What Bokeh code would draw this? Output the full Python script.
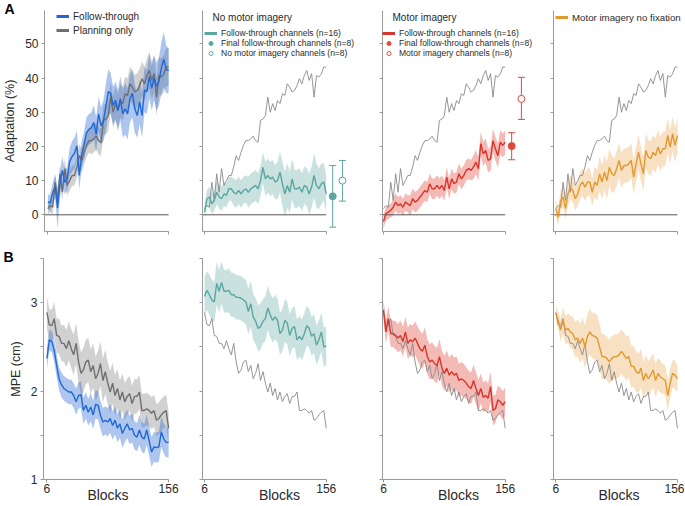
import numpy as np
from bokeh.plotting import figure
from bokeh.layouts import row, column
from bokeh.models import (Range1d, FixedTicker, Legend, LegendItem, Label,
                          Whisker, ColumnDataSource, TeeHead)
from bokeh.embed import file_html
from bokeh.resources import INLINE

FONT = "Liberation Sans"

# ---------------- data ----------------
blocks = list(range(6, 157, 3))

# Panel A: adaptation (%)
adapt_follow = [3.8, 3.5, 6.5, 8.2, 2.0, 9.0, 13.0, 9.5, 10.5, 15.5,
                17.0, 18.0, 20.2, 11.5, 17.5, 20.5, 24.0, 25.0, 25.5, 27.0,
                23.5, 29.5, 26.0, 27.5, 31.5, 36.0, 35.5, 32.0, 33.5, 30.5,
                34.0, 29.5, 31.0, 29.5, 34.0, 35.5, 31.0, 29.0, 33.0, 29.0,
                36.5, 36.0, 40.5, 37.0, 40.0, 37.5, 39.0, 43.0, 45.5, 42.5,
                42.2]
adapt_follow_sem = [2.0, 2.5, 3.0, 3.5, 6.0, 4.0, 4.0, 3.5, 3.5, 4.0,
                    4.5, 4.5, 4.5, 4.0, 4.0, 4.0, 4.5, 4.5, 4.5, 5.0,
                    5.0, 5.0, 5.5, 6.0, 7.0, 6.5, 6.0, 5.5, 5.5, 6.0,
                    6.5, 7.0, 7.5, 7.5, 7.0, 7.0, 7.0, 6.5, 6.5, 6.5,
                    6.5, 6.5, 6.5, 6.5, 6.5, 7.0, 7.0, 7.5, 8.0, 7.0,
                    6.5]
adapt_plan = [1.8, 2.7, 2.2, 9.5, 4.2, 12.0, 6.6, 13.5, 8.6, 10.0,
              11.5, 11.5, 14.0, 17.3, 15.9, 18.3, 20.3, 21.7, 21.7, 22.2,
              23.0, 21.7, 21.2, 27.6, 28.0, 29.0, 34.4, 30.0, 32.5, 30.5,
              33.4, 32.5, 35.4, 34.9, 38.3, 37.3, 35.9, 36.4, 37.8, 39.8,
              38.3, 40.7, 42.2, 39.3, 41.3, 34.4, 40.7, 40.3, 41.2, 43.2,
              43.2]
adapt_plan_sem = [1.5, 2.0, 2.0, 2.5, 2.5, 2.5, 2.5, 3.0, 3.0, 3.0,
                  3.0, 3.0, 3.0, 3.5, 3.5, 3.5, 3.5, 3.5, 4.0, 4.0,
                  4.0, 4.0, 4.0, 4.5, 4.5, 4.5, 4.5, 4.5, 5.0, 5.0,
                  5.0, 5.0, 5.0, 5.0, 5.0, 5.0, 5.0, 5.0, 5.0, 5.0,
                  5.0, 5.0, 5.5, 5.5, 5.5, 5.5, 5.5, 5.5, 5.5, 5.5,
                  5.5]
adapt_nomi = [0.8, 4.7, 5.2, 3.2, 4.2, 6.6, 5.2, 4.7, 6.1, 5.7,
              7.6, 7.6, 6.6, 6.1, 7.1, 6.1, 7.1, 7.6, 6.6, 7.6,
              8.1, 8.6, 7.6, 10.0, 13.9, 10.5, 11.5, 10.5, 11.0, 9.6,
              10.0, 12.5, 9.1, 6.1, 8.6, 6.6, 10.5, 7.6, 7.6, 8.1,
              6.6, 8.6, 8.1, 6.1, 8.1, 11.5, 8.6, 7.6, 9.1, 9.6,
              6.1]
adapt_nomi_sem = [2.0, 2.5, 3.0, 3.0, 3.0, 3.5, 3.5, 3.5, 3.5, 3.5,
                  3.5, 3.5, 4.0, 4.0, 4.0, 4.0, 4.0, 4.0, 4.5, 4.5,
                  4.5, 4.5, 4.5, 4.5, 4.5, 5.0, 5.0, 5.0, 5.0, 5.0,
                  5.5, 6.0, 6.5, 6.5, 6.5, 6.0, 6.0, 5.5, 5.5, 5.5,
                  5.5, 5.5, 5.5, 6.0, 6.0, 6.5, 6.5, 6.0, 6.0, 5.5,
                  5.5]
adapt_mi = [-2.0, 0.3, 0.8, 1.3, 2.2, 3.7, 2.7, 3.2, 2.2, 3.7,
            3.2, 2.7, 4.7, 3.7, 4.2, 5.2, 6.1, 7.1, 6.6, 9.1,
            7.6, 7.6, 8.6, 7.6, 8.6, 7.1, 11.0, 7.6, 10.5, 9.1,
            9.6, 12.0, 10.5, 11.5, 13.0, 13.5, 13.0, 14.0, 15.4, 13.5,
            20.8, 17.8, 18.8, 15.9, 16.4, 21.7, 19.3, 17.3, 21.2, 20.3,
            21.2]
adapt_mi_sem = [2.0, 2.0, 2.0, 2.0, 2.5, 2.5, 2.5, 2.5, 2.5, 2.5,
                2.5, 3.0, 3.0, 3.0, 3.0, 3.0, 3.0, 3.0, 3.0, 3.0,
                3.0, 3.0, 3.0, 3.0, 3.0, 3.0, 3.0, 3.0, 3.0, 3.0,
                3.0, 3.0, 3.0, 3.0, 3.0, 3.0, 3.0, 3.5, 3.5, 3.5,
                3.5, 3.5, 3.5, 3.5, 3.5, 3.5, 3.5, 3.5, 3.5, 3.5,
                3.5]
adapt_minf = [1.8, -0.7, 4.2, 5.2, 1.8, 6.1, 8.1, 7.1, 4.7, 6.1,
              8.6, 9.6, 8.1, 9.6, 9.6, 6.6, 9.6, 8.6, 12.0, 9.6,
              12.5, 10.0, 13.9, 12.0, 11.5, 13.5, 15.9, 13.0, 14.4, 14.4,
              14.9, 15.9, 11.0, 14.9, 18.3, 14.9, 12.0, 18.8, 16.9, 16.4,
              18.3, 17.3, 19.8, 17.8, 19.3, 19.3, 23.2, 19.8, 23.7, 20.3,
              23.2]
adapt_minf_sem = [2.5, 2.5, 3.0, 3.0, 3.0, 3.5, 3.5, 3.5, 3.5, 3.5,
                  4.0, 4.0, 4.0, 4.0, 4.0, 4.0, 4.5, 4.5, 5.0, 5.0,
                  5.0, 5.5, 5.5, 5.5, 5.0, 5.0, 5.0, 5.0, 5.0, 5.0,
                  5.0, 5.0, 5.0, 5.0, 5.0, 5.0, 5.0, 5.0, 5.0, 5.0,
                  5.0, 5.0, 5.0, 5.0, 5.0, 5.0, 5.0, 5.0, 5.0, 5.0,
                  5.0]

# error bars (final follow-through channels, imagery channels)
err_x = [164, 176]
nomi_err_mean = [5.4, 10.0]
nomi_err_lo = [-3.6, 4.0]
nomi_err_hi = [14.4, 15.9]
mi_err_mean = [20.1, 33.9]
mi_err_lo = [16.1, 27.9]
mi_err_hi = [24.0, 40.2]

# Panel B: MPE (cm)
mpe_follow = [2.37, 2.58, 2.56, 2.46, 2.29, 2.14, 2.07, 2.03, 2.01, 1.99,
              1.99, 1.95, 1.88, 1.95, 1.96, 1.78, 1.84, 1.76, 1.82, 1.73,
              1.85, 1.84, 1.73, 1.65, 1.67, 1.65, 1.69, 1.61, 1.67, 1.58,
              1.63, 1.52, 1.58, 1.63, 1.56, 1.58, 1.50, 1.48, 1.56, 1.48,
              1.46, 1.56, 1.44, 1.31, 1.37, 1.36, 1.37, 1.54, 1.46, 1.42,
              1.42]
mpe_follow_sem = [0.12, 0.12, 0.12, 0.13, 0.13, 0.13, 0.14, 0.14, 0.14, 0.14,
                  0.14, 0.14, 0.15, 0.15, 0.15, 0.15, 0.15, 0.15, 0.16, 0.16,
                  0.16, 0.16, 0.16, 0.16, 0.16, 0.16, 0.16, 0.16, 0.16, 0.16,
                  0.16, 0.16, 0.16, 0.16, 0.16, 0.16, 0.16, 0.16, 0.17, 0.17,
                  0.17, 0.17, 0.17, 0.17, 0.17, 0.17, 0.17, 0.17, 0.17, 0.17,
                  0.17]
mpe_plan = [2.89, 2.75, 2.74, 2.82, 2.63, 2.62, 2.54, 2.54, 2.48, 2.57,
            2.48, 2.41, 2.54, 2.33, 2.20, 2.24, 2.33, 2.35, 2.22, 2.29,
            2.14, 2.20, 2.31, 2.12, 2.22, 2.09, 1.99, 2.09, 1.95, 2.03,
            1.90, 1.99, 1.88, 1.94, 1.97, 1.86, 1.94, 1.94, 1.99, 1.78,
            1.78, 1.80, 1.78, 1.75, 1.78, 1.67, 1.69, 1.73, 1.76, 1.78,
            1.58]
mpe_plan_sem = [0.18, 0.18, 0.18, 0.19, 0.19, 0.20, 0.20, 0.21, 0.21, 0.22,
                0.22, 0.23, 0.23, 0.24, 0.24, 0.25, 0.25, 0.25, 0.25, 0.25,
                0.25, 0.25, 0.25, 0.25, 0.25, 0.24, 0.24, 0.23, 0.23, 0.22,
                0.22, 0.21, 0.21, 0.20, 0.20, 0.20, 0.20, 0.19, 0.19, 0.19,
                0.19, 0.18, 0.18, 0.18, 0.18, 0.18, 0.18, 0.18, 0.18, 0.18,
                0.18]
mpe_nomi = [3.07, 3.14, 3.09, 3.03, 3.01, 3.22, 3.13, 3.23, 3.13, 3.13,
            3.14, 3.09, 3.09, 3.06, 3.06, 3.05, 3.03, 3.01, 2.90, 2.99,
            2.84, 2.79, 2.71, 2.73, 2.79, 2.82, 2.94, 2.86, 2.80, 2.84,
            2.80, 2.65, 2.69, 2.80, 2.77, 2.63, 2.71, 2.73, 2.58, 2.62,
            2.58, 2.65, 2.74, 2.71, 2.62, 2.65, 2.52, 2.58, 2.67, 2.50,
            2.51]
mpe_nomi_sem = [0.22, 0.22, 0.23, 0.23, 0.23, 0.24, 0.24, 0.24, 0.24, 0.24,
                0.25, 0.25, 0.25, 0.25, 0.25, 0.25, 0.25, 0.25, 0.26, 0.26,
                0.26, 0.26, 0.26, 0.26, 0.25, 0.25, 0.25, 0.25, 0.25, 0.25,
                0.25, 0.24, 0.24, 0.24, 0.24, 0.24, 0.23, 0.23, 0.23, 0.23,
                0.23, 0.23, 0.22, 0.22, 0.22, 0.22, 0.22, 0.22, 0.22, 0.22,
                0.22]
mpe_mi = [2.92, 2.67, 2.82, 2.65, 2.65, 2.63, 2.60, 2.63, 2.56, 2.67,
          2.54, 2.58, 2.56, 2.60, 2.54, 2.48, 2.45, 2.52, 2.39, 2.33,
          2.35, 2.31, 2.29, 2.39, 2.26, 2.20, 2.26, 2.18, 2.22, 2.18,
          2.20, 2.12, 2.14, 2.12, 2.09, 2.05, 2.03, 2.12, 2.03, 1.95,
          2.03, 1.93, 1.95, 1.92, 2.05, 1.78, 1.80, 1.90, 1.88, 1.84,
          1.88]
mpe_mi_sem = [0.12, 0.13, 0.14, 0.15, 0.15, 0.16, 0.16, 0.17, 0.17, 0.17,
              0.18, 0.18, 0.18, 0.19, 0.19, 0.20, 0.20, 0.20, 0.20, 0.20,
              0.20, 0.20, 0.20, 0.20, 0.20, 0.20, 0.20, 0.20, 0.20, 0.20,
              0.19, 0.19, 0.19, 0.19, 0.18, 0.18, 0.18, 0.18, 0.18, 0.18,
              0.17, 0.17, 0.17, 0.17, 0.17, 0.17, 0.16, 0.16, 0.16, 0.16,
              0.16]
mpe_minf = [2.88, 2.80, 2.69, 2.80, 2.69, 2.71, 2.67, 2.65, 2.58, 2.60,
            2.54, 2.60, 2.50, 2.62, 2.67, 2.63, 2.62, 2.60, 2.50, 2.39,
            2.39, 2.37, 2.33, 2.37, 2.39, 2.39, 2.41, 2.45, 2.41, 2.37,
            2.39, 2.28, 2.28, 2.22, 2.20, 2.26, 2.12, 2.20, 2.14, 2.18,
            2.24, 2.12, 2.20, 2.16, 2.14, 2.12, 1.95, 2.09, 2.20, 2.18,
            2.14]
mpe_minf_sem = [0.08, 0.10, 0.13, 0.15, 0.16, 0.17, 0.18, 0.19, 0.20, 0.21,
                0.22, 0.23, 0.24, 0.25, 0.26, 0.26, 0.26, 0.26, 0.26, 0.26,
                0.25, 0.25, 0.25, 0.25, 0.25, 0.25, 0.25, 0.25, 0.25, 0.25,
                0.24, 0.24, 0.23, 0.23, 0.22, 0.22, 0.21, 0.21, 0.20, 0.20,
                0.19, 0.19, 0.18, 0.18, 0.17, 0.17, 0.17, 0.16, 0.16, 0.16,
                0.15]

adapt_ticks = [0, 10, 20, 30, 40, 50]
mpe_ticks = [1, 2, 3]
mpe_minor_ticks = [1.5, 2.5, 3.5]
x_ticks = [6, 156]

# ---------------- styles ----------------
BLUE = "#1f68d6"
GRAY = "#6f6f6f"
TEAL = "#5ba6a0"
RED = "#d8362c"
ORANGE = "#e3992f"
REF = "#8a8a8a"
AXIS = "#9a9a9a"
TXT = "#2a2a2a"

PX_PER_BLOCK = 0.8113
COLS = [  # width, min_border_left, min_border_right, x_start
    (182, 43, 10, 1.8),
    (180, 20, 6, 3.5),
    (180, 20, 8, 4.8),
    (142, 11, 0, 3.2),
]
A_H, A_TOP, A_BOT = 250, 10, 19
B_H, B_TOP, B_BOT = 255, 8, 26
A_Y = (-4.88, 59.74)
B_Y = (1.0, 3.5)


def make_fig(col, height, mbt, mbb, yr, show_ylabels, show_xlabels, yticks, yminor):
    width, mbl, mbr, x0 = col
    x1 = x0 + (width - mbl - mbr) / PX_PER_BLOCK
    p = figure(width=width, height=height,
               x_range=Range1d(x0, x1), y_range=Range1d(*yr),
               output_backend="svg", toolbar_location=None,
               min_border_left=mbl, min_border_right=mbr,
               min_border_top=mbt, min_border_bottom=mbb)
    p.outline_line_color = None
    p.grid.visible = False
    p.background_fill_color = "white"
    p.border_fill_color = "white"
    for ax in (p.xaxis, p.yaxis):
        ax.axis_line_color = AXIS
        ax.axis_line_width = 1
        ax.major_tick_line_color = AXIS
        ax.major_tick_in = 0
        ax.major_tick_out = 3
        ax.minor_tick_in = 0
        ax.minor_tick_out = 3
        ax.major_label_text_font = FONT
        ax.major_label_text_font_size = "12px"
        ax.major_label_text_color = TXT
        ax.axis_label_text_font = FONT
        ax.axis_label_text_font_style = "normal"
        ax.axis_label_text_font_size = "12.5px"
        ax.axis_label_text_color = TXT
    p.xaxis.ticker = FixedTicker(ticks=x_ticks)
    p.xaxis.bounds = (x0, blocks[-1])
    p.xaxis.minor_tick_line_color = None
    p.xaxis.major_label_standoff = 1
    if yminor:
        p.yaxis.ticker = FixedTicker(ticks=yticks, minor_ticks=yminor)
        p.yaxis.minor_tick_line_color = AXIS
    else:
        p.yaxis.ticker = FixedTicker(ticks=yticks)
        p.yaxis.minor_tick_line_color = None
    p.yaxis.major_label_standoff = 3
    p.yaxis.axis_label_standoff = 5
    if not show_ylabels:
        p.yaxis.major_label_overrides = {t: "" for t in yticks}
    if not show_xlabels:
        p.xaxis.major_label_overrides = {t: "" for t in x_ticks}
    else:
        p.xaxis.axis_label = "Blocks"
        p.xaxis.axis_label_text_font_size = "14px"
        p.xaxis.axis_label_standoff = -9
    return p


def panel_letter(p, letter, standoff):
    p.title.text = letter
    p.title.align = "left"
    p.title.offset = -40
    p.title.standoff = standoff
    p.title.vertical_align = "bottom"
    p.title.text_font = FONT
    p.title.text_font_size = "14px"
    p.title.text_font_style = "bold"
    p.title.text_color = "black"


def band(p, mean, sem, color, alpha):
    m = np.array(mean)
    s = np.array(sem)
    p.varea(x=blocks, y1=m - s, y2=m + s, fill_color=color, fill_alpha=alpha)


def zero_line(p):
    p.segment(x0=[p.x_range.start], y0=[0], x1=[blocks[-1]], y1=[0],
              line_color="#555555", line_width=1)


def swatch(p, color):
    # legend-only renderer (no visible data)
    return p.line(x=[np.nan], y=[np.nan], line_color=color, line_width=3)


def legend(p, items, loc, gw, gh, lh, sp, st, fs):
    lg = Legend(items=items, location=loc, orientation="vertical",
                background_fill_alpha=0, border_line_color=None,
                padding=0, margin=0, spacing=sp,
                glyph_width=gw, glyph_height=gh, label_height=lh,
                label_standoff=st, label_text_font=FONT,
                label_text_font_size=fs, label_text_color=TXT)
    p.add_layout(lg)


def title_label(p, text):
    p.add_layout(Label(x=10, y=214, x_units="screen", y_units="screen", text=text,
                       text_font=FONT, text_font_size="10px", text_color=TXT,
                       text_baseline="middle", text_align="left"))


def error_points(p, mean, lo, hi, color):
    src = ColumnDataSource(dict(x=err_x, lo=lo, hi=hi))
    p.add_layout(Whisker(base="x", lower="lo", upper="hi", source=src, dimension="height",
                         line_color=color, line_width=1,
                         upper_head=TeeHead(size=7, line_color=color, line_width=1),
                         lower_head=TeeHead(size=7, line_color=color, line_width=1)))
    r_fill = p.scatter(x=err_x[:1], y=mean[:1], size=7, marker="circle",
                       fill_color=color, line_color=color, line_width=1)
    r_open = p.scatter(x=err_x[1:], y=mean[1:], size=7, marker="circle",
                       fill_color="white", line_color=color, line_width=1)
    return r_fill, r_open


# ---------------- row A ----------------
a1 = make_fig(COLS[0], A_H, A_TOP, A_BOT, A_Y, True, False, adapt_ticks, None)
a1.yaxis.axis_label = "Adaptation (%)"
panel_letter(a1, "A", -12)
band(a1, adapt_plan, adapt_plan_sem, "#8c8c8c", 0.4)
band(a1, adapt_follow, adapt_follow_sem, "#3470d2", 0.4)
zero_line(a1)
a1.line(blocks, adapt_plan, line_color=GRAY, line_width=1.4)
a1.line(blocks, adapt_follow, line_color=BLUE, line_width=1.4)
legend(a1, [LegendItem(label="Follow-through", renderers=[swatch(a1, BLUE)]),
            LegendItem(label="Planning only", renderers=[swatch(a1, GRAY)])],
       (12, 195), 13, 12, 12, 2, 4, "10px")

a2 = make_fig(COLS[1], A_H, A_TOP, A_BOT, A_Y, False, False, adapt_ticks, None)
band(a2, adapt_nomi, adapt_nomi_sem, TEAL, 0.33)
zero_line(a2)
a2.line(blocks, adapt_plan, line_color=REF, line_width=0.9)
a2.line(blocks, adapt_nomi, line_color=TEAL, line_width=1.4)
f2, o2 = error_points(a2, nomi_err_mean, nomi_err_lo, nomi_err_hi, TEAL)
legend(a2, [LegendItem(label="Follow-through channels (n=16)", renderers=[swatch(a2, TEAL)]),
            LegendItem(label="Final follow-through channels (n=8)", renderers=[f2]),
            LegendItem(label="No motor imagery channels (n=8)", renderers=[o2])],
       (2, 173), 13, 10, 10, 0, 4, "8.5px")
title_label(a2, "No motor imagery")

a3 = make_fig(COLS[2], A_H, A_TOP, A_BOT, A_Y, False, False, adapt_ticks, None)
band(a3, adapt_mi, adapt_mi_sem, "#e34a40", 0.38)
zero_line(a3)
a3.line(blocks, adapt_plan, line_color=REF, line_width=0.9)
a3.line(blocks, adapt_mi, line_color=RED, line_width=1.4)
f3, o3 = error_points(a3, mi_err_mean, mi_err_lo, mi_err_hi, "#e0483e")
legend(a3, [LegendItem(label="Follow-through channels (n=16)", renderers=[swatch(a3, RED)]),
            LegendItem(label="Final follow-through channels (n=8)", renderers=[f3]),
            LegendItem(label="Motor imagery channels (n=8)", renderers=[o3])],
       (0, 173), 13, 10, 10, 0, 4, "8.5px")
title_label(a3, "Motor imagery")

a4 = make_fig(COLS[3], A_H, A_TOP, A_BOT, A_Y, False, False, adapt_ticks, None)
band(a4, adapt_minf, adapt_minf_sem, "#e9a048", 0.33)
zero_line(a4)
a4.line(blocks, adapt_plan, line_color=REF, line_width=0.9)
a4.line(blocks, adapt_minf, line_color=ORANGE, line_width=1.4)
legend(a4, [LegendItem(label="Motor imagery no fixation", renderers=[swatch(a4, ORANGE)])],
       (2, 208), 13, 12, 12, 2, 4, "9.7px")

# ---------------- row B ----------------
b1 = make_fig(COLS[0], B_H, B_TOP, B_BOT, B_Y, True, True, mpe_ticks, mpe_minor_ticks)
b1.yaxis.axis_label = "MPE (cm)"
panel_letter(b1, "B", -13)
band(b1, mpe_plan, mpe_plan_sem, "#8c8c8c", 0.4)
band(b1, mpe_follow, mpe_follow_sem, "#3470d2", 0.4)
b1.line(blocks, mpe_plan, line_color=GRAY, line_width=1.4)
b1.line(blocks, mpe_follow, line_color=BLUE, line_width=1.4)

b2 = make_fig(COLS[1], B_H, B_TOP, B_BOT, B_Y, False, True, mpe_ticks, mpe_minor_ticks)
band(b2, mpe_nomi, mpe_nomi_sem, TEAL, 0.33)
b2.line(blocks, mpe_plan, line_color=REF, line_width=0.9)
b2.line(blocks, mpe_nomi, line_color=TEAL, line_width=1.4)

b3 = make_fig(COLS[2], B_H, B_TOP, B_BOT, B_Y, False, True, mpe_ticks, mpe_minor_ticks)
band(b3, mpe_mi, mpe_mi_sem, "#e34a40", 0.38)
b3.line(blocks, mpe_plan, line_color=REF, line_width=0.9)
b3.line(blocks, mpe_mi, line_color=RED, line_width=1.4)

b4 = make_fig(COLS[3], B_H, B_TOP, B_BOT, B_Y, False, True, mpe_ticks, mpe_minor_ticks)
band(b4, mpe_minf, mpe_minf_sem, "#e9a048", 0.33)
b4.line(blocks, mpe_plan, line_color=REF, line_width=0.9)
b4.line(blocks, mpe_minf, line_color=ORANGE, line_width=1.4)

layout = column(row(a1, a2, a3, a4), row(b1, b2, b3, b4))
open("out.html", "w").write(file_html(layout, INLINE))
